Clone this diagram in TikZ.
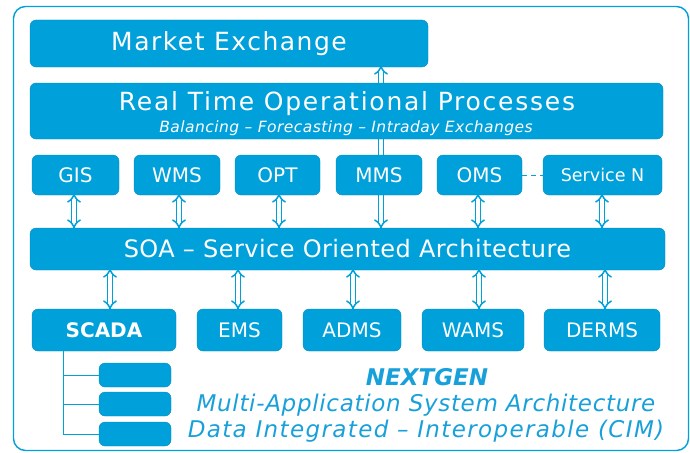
\documentclass[tikz,border=0pt]{standalone}
\usepackage{fontspec}
\setmainfont{DejaVu Sans}
\usetikzlibrary{arrows.meta}
\definecolor{nbblue}{RGB}{0,160,219}
\definecolor{nbtext}{RGB}{24,160,218}
\pgfdeclarelayer{background}
\pgfsetlayers{background,main}
\begin{document}
\begin{tikzpicture}[x=1pt,y=-1pt,
  box/.style={fill=nbblue,draw=nbblue!85!black,line width=0.3pt,rounded corners=6pt,
    text=white,inner sep=0pt,font=\fontsize{20}{24}\selectfont},
  dar/.style={draw=nbblue,line width=1.5pt,double=white,double distance=3.2pt,
    {Implies}-{Implies}},
  link/.style={draw=nbblue,line width=1pt},
  caption/.style={text=nbtext,inner sep=0pt}]
\useasboundingbox (0,0) rectangle (690,452);
% outer frame
\draw[nbblue,line width=1.4pt,rounded corners=12pt] (13.5,6.5) rectangle (688.5,450.5);

% top layers
\node[box,minimum width=398pt,minimum height=47pt,font=\fontsize{25}{30}\selectfont\addfontfeatures{LetterSpace=6}]
  (me) at (229,43.5) {Market Exchange};
\node[box,minimum width=633pt,minimum height=56pt] (rt) at (346.5,111) {};
\node[text=white,inner sep=0pt,font=\fontsize{25}{30}\selectfont\addfontfeatures{LetterSpace=7}] (rtT) at (347,104) {Real Time Operational Processes};
\node[text=white,inner sep=0pt,font=\itshape\fontsize{15.5}{18}\selectfont\addfontfeatures{LetterSpace=3}] (rtS) at (346,128) {Balancing – Forecasting – Intraday Exchanges};

% services
\node[box,minimum width=87pt,minimum height=40pt] (gis) at (75.5,175) {GIS};
\node[box,minimum width=86pt,minimum height=40pt] (wms) at (177,175) {WMS};
\node[box,minimum width=85pt,minimum height=40pt] (opt) at (277.5,175) {OPT};
\node[box,minimum width=86pt,minimum height=40pt] (mms) at (379,175) {MMS};
\node[box,minimum width=85pt,minimum height=40pt] (oms) at (479.5,175) {OMS};
\node[box,minimum width=119pt,minimum height=40pt,font=\fontsize{17.5}{20}\selectfont] (svn) at (602.5,175) {Service N};
\draw[link,dashed,dash pattern=on 5pt off 4pt] (oms.east) -- (svn.west);

% service bus
\node[box,minimum width=635pt,minimum height=42pt,font=\fontsize{24}{28}\selectfont\addfontfeatures{LetterSpace=2}]
  (soa) at (347.5,249) {SOA – Service Oriented Architecture};

% applications
\node[box,minimum width=144pt,minimum height=42pt,font=\bfseries\fontsize{20}{24}\selectfont] (scada) at (104,330) {SCADA};
\node[box,minimum width=85pt,minimum height=42pt] (ems) at (239.5,330) {EMS};
\node[box,minimum width=98pt,minimum height=42pt] (adms) at (352,330) {ADMS};
\node[box,minimum width=102pt,minimum height=42pt] (wams) at (473,330) {WAMS};
\node[box,minimum width=116pt,minimum height=42pt] (derms) at (602,330) {DERMS};

% SCADA sub-modules
\node[box,minimum width=72pt,minimum height=24pt] (m1) at (135,375) {};
\node[box,minimum width=72pt,minimum height=24pt] (m2) at (135,404) {};
\node[box,minimum width=72pt,minimum height=24pt] (m3) at (135,434) {};
\coordinate (tr) at (63,351);
\draw[link] (tr) |- (m1.west);
\draw[link] (tr) |- (m2.west);
\draw[link] (tr) |- (m3.west);

% two-way links
\draw[dar] ([xshift=-1.5pt,yshift=2pt]gis.south) -- ([xshift=-1.5pt,yshift=-1pt]gis.south |- soa.north);
\draw[dar] ([xshift=2pt,yshift=2pt]wms.south) -- ([xshift=2pt,yshift=-1pt]wms.south |- soa.north);
\draw[dar] ([xshift=1.5pt,yshift=2pt]opt.south) -- ([xshift=1.5pt,yshift=-1pt]opt.south |- soa.north);
\draw[dar] ([xshift=-1.5pt,yshift=2pt]oms.south) -- ([xshift=-1.5pt,yshift=-1pt]oms.south |- soa.north);
\draw[dar] ([xshift=-0.5pt,yshift=2pt]svn.south) -- ([xshift=-0.5pt,yshift=-1pt]svn.south |- soa.north);
\begin{pgfonlayer}{background}
\draw[dar] ([xshift=2pt,yshift=-1pt]mms.south |- soa.north) -- ([xshift=2pt,yshift=2pt]mms.south |- me.south);
\end{pgfonlayer}

\draw[dar] ([xshift=6pt,yshift=2pt]soa.south -| scada.north) -- ([xshift=6pt,yshift=-1pt]scada.north);
\draw[dar] ([xshift=-1.5pt,yshift=2pt]soa.south -| ems.north) -- ([xshift=-1.5pt,yshift=-1pt]ems.north);
\draw[dar] ([xshift=1pt,yshift=2pt]soa.south -| adms.north) -- ([xshift=1pt,yshift=-1pt]adms.north);
\draw[dar] ([xshift=6pt,yshift=2pt]soa.south -| wams.north) -- ([xshift=6pt,yshift=-1pt]wams.north);
\draw[dar] ([xshift=3pt,yshift=2pt]soa.south -| derms.north) -- ([xshift=3pt,yshift=-1pt]derms.north);

% captions
\node[caption,font=\bfseries\itshape\fontsize{23}{26}\selectfont] (ng) at (427,377) {NEXTGEN};
\node[caption,font=\itshape\fontsize{23}{26}\selectfont\addfontfeatures{LetterSpace=3}] (l1) at (426,405) {Multi-Application System Architecture};
\node[caption,font=\itshape\fontsize{23}{26}\selectfont\addfontfeatures{LetterSpace=6}] (l2) at (426,431) {Data Integrated – Interoperable (CIM)};
\end{tikzpicture}
\end{document}
